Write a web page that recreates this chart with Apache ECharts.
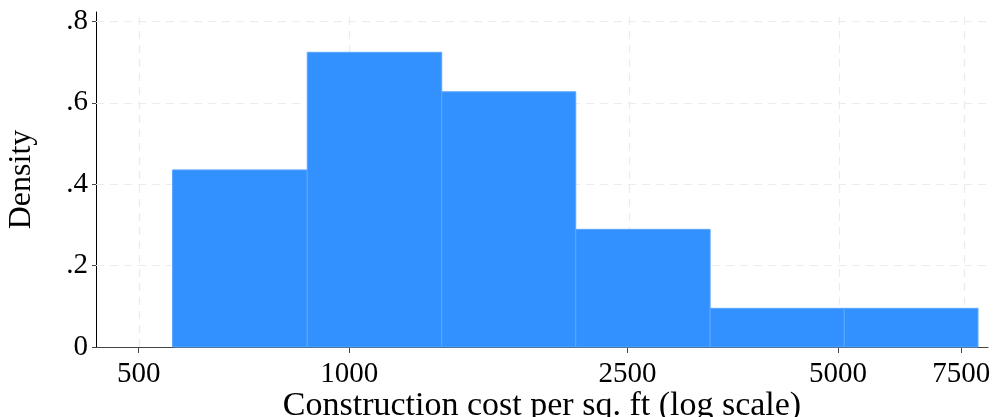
<!DOCTYPE html>
<html><head><meta charset="utf-8">
<script src="https://cdn.jsdelivr.net/npm/echarts@6/dist/echarts.min.js"></script>
<style>html,body{margin:0;padding:0;background:#fff}#c{width:995px;height:417px}</style>
</head><body><div id="c"></div>
<script>
// Histogram bins (construction cost per sq. ft, raw units) and densities
const binLower = [559, 871, 1356, 2108, 3281, 5103];
const binUpper = [871, 1356, 2108, 3281, 5103, 7925];
const density  = [0.435, 0.724, 0.627, 0.289, 0.095, 0.095];
const xTickValues = [500, 1000, 2500, 5000, 7500];
const yTickValues = [0, 0.2, 0.4, 0.6, 0.8];
const xRange = [434.5, 8190];
const yRange = [0, 0.823];

const L = Math.log10;
const font = '"Liberation Serif", "DejaVu Serif", serif';
const data = binLower.map((lo, i) => [L(lo), L(binUpper[i]), density[i]]);
const xTicksLog = xTickValues.map(L);

const chart = echarts.init(document.getElementById('c'), null, {renderer: 'canvas'});
chart.setOption({
  animation: false,
  grid: {left: 96, right: 7, top: 12, bottom: 70, containLabel: false, outerBoundsMode: 'none'},
  xAxis: {
    type: 'value', min: L(xRange[0]), max: L(xRange[1]),
    name: 'Construction cost per sq. ft (log scale)', nameLocation: 'middle', nameGap: 42,
    nameMoveOverlap: false,
    nameTextStyle: {fontFamily: font, fontSize: 34, color: '#000'},
    axisLine: {show: true, onZero: false, lineStyle: {color: '#444', width: 1}},
    axisTick: {show: true, length: 6, customValues: xTicksLog, lineStyle: {color: '#444'}},
    axisLabel: {customValues: xTicksLog, margin: 13, fontFamily: font, fontSize: 29, color: '#000',
      formatter: v => String(Math.round(Math.pow(10, v)))},
    splitLine: {show: false}
  },
  yAxis: {
    type: 'value', min: yRange[0], max: yRange[1],
    name: 'Density', nameLocation: 'middle', nameGap: 58,
    nameMoveOverlap: false,
    nameTextStyle: {fontFamily: font, fontSize: 32, color: '#000'},
    axisLine: {show: true, onZero: false, lineStyle: {color: '#000', width: 1}},
    axisTick: {show: true, length: 4, customValues: yTickValues, lineStyle: {color: '#444'}},
    axisLabel: {customValues: yTickValues, margin: 8, fontFamily: font, fontSize: 29, color: '#000',
      formatter: v => v === 0 ? '0' : String(+v.toFixed(1)).replace(/^0/, '')},
    splitLine: {show: false}
  },
  series: [
    {
      type: 'custom',
      data: data,
      encode: {x: [0, 1], y: 2},
      renderItem: function (params, api) {
        const p0 = api.coord([api.value(0), api.value(2)]);
        const p1 = api.coord([api.value(1), 0]);
        return {
          type: 'rect',
          shape: {x: p0[0], y: p0[1], width: p1[0] - p0[0], height: p1[1] - p0[1]},
          style: {fill: '#3391ff', stroke: '#5aa6ff', lineWidth: 1}
        };
      },
      z: 3
    },
    {
      type: 'line', data: [], silent: true, z: 1,
      markLine: {
        silent: true, symbol: 'none', label: {show: false}, z: 1,
        lineStyle: {color: '#ececec', type: [8, 6], width: 1.2},
        data: xTicksLog.map(v => ({xAxis: v})).concat(yTickValues.filter(v => v > 0).map(v => ({yAxis: v})))
      }
    }
  ]
});
</script></body></html>
